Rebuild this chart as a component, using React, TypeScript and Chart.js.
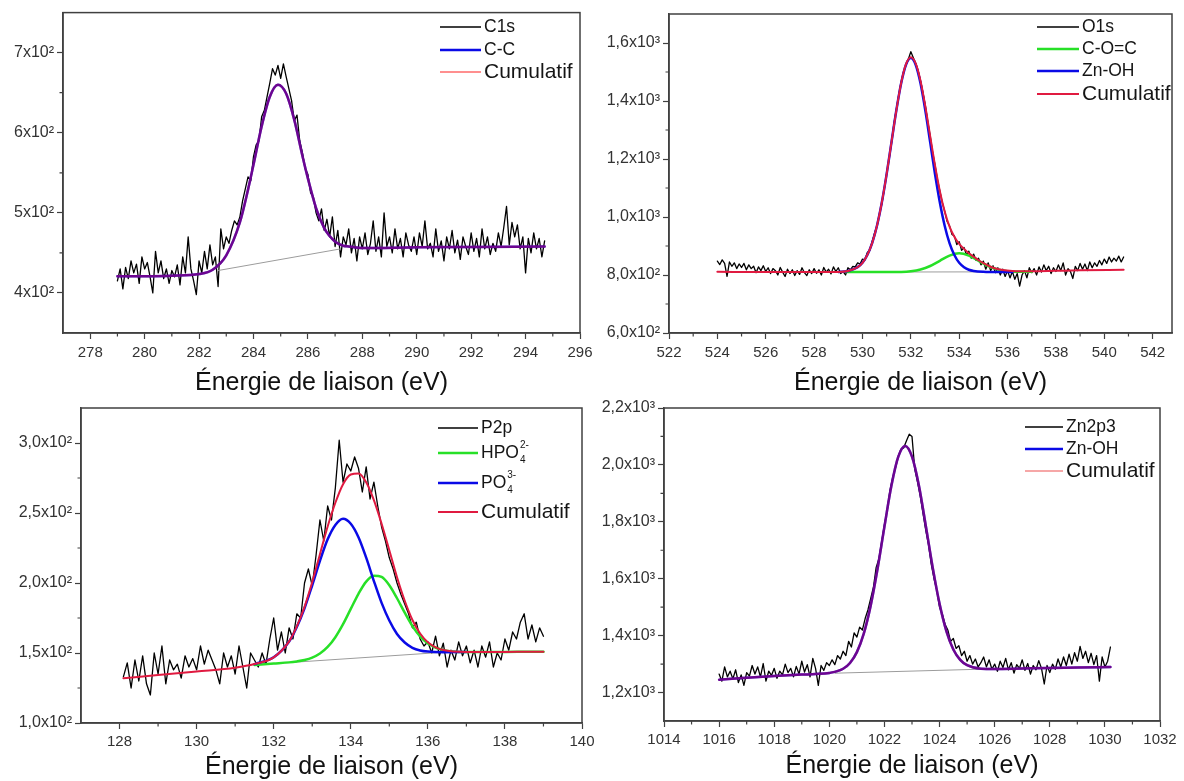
import React, { useEffect, useRef } from 'react';
import { Chart, registerables } from 'chart.js';

Chart.register(...registerables);

const FONT = '"Liberation Sans", Arial, Helvetica, sans-serif';
const AXIS_COLOR = '#404040';
const TICK_TEXT = '#333333';
const AXIS_TITLE = 'Énergie de liaison (eV)';

// ---------------- C1s (top left) ----------------
const C1S_E0 = 279.0;
const C1S_STEP = 0.1;
const C1S_COUNTS = [
  415, 430, 405, 432, 418, 440, 425, 436, 412, 445,
  430, 438, 420, 400, 452, 425, 440, 418, 430, 412,
  428, 420, 435, 410, 445, 425, 470, 430, 415, 398,
  440, 425, 452, 430, 460, 435, 445, 408, 480, 455,
  470, 462, 478, 490, 485, 495, 515, 530, 545, 540,
  570, 585, 590, 620, 628, 645, 662, 680, 672, 684,
  668, 686, 670, 655, 640, 615, 622, 590, 575, 555,
  548, 525, 520, 500, 490, 505, 478, 492, 470, 495,
  458, 478, 445, 470, 460, 480, 450, 468, 440, 470,
  455, 475, 448, 462, 490, 452, 470, 445, 500, 458,
  470, 450, 480, 455, 468, 445, 475, 460, 452, 470,
  448, 475, 458, 490, 455, 462, 445, 480, 452, 465,
  440, 470, 455, 478, 450, 466, 442, 470, 458, 448,
  475, 452, 468, 445, 480, 455, 470, 448, 462, 452,
  475, 458, 482, 508, 460, 488, 470, 485, 455, 470,
  425, 468, 450, 475, 455, 468, 445, 465,
];
const C1S_FIT_E = [279, 280, 281, 282, 282.5, 283, 283.5, 283.8, 284, 284.3, 284.6, 284.9, 285.2, 285.5, 285.8, 286, 286.3, 286.6, 286.8, 287, 287.3, 287.5, 288, 290, 292, 294.7];
const C1S_FIT = [421, 421, 421.5, 423.6, 429, 447, 488, 529, 560, 608, 645, 660, 649, 616, 571, 543, 506, 481, 471, 464, 459, 458, 456, 457, 457.5, 458];
const C1S_BG_E = [282.7, 287.2];
const C1S_BG = [428, 455];

// ---------------- O1s (top right) ----------------
const O1S_E0 = 524.0;
const O1S_STEP = 0.1;
const O1S_COUNTS = [
  848, 836, 852, 840, 795, 845, 830, 842, 822, 838,
  826, 840, 818, 835, 822, 830, 808, 828, 815, 832,
  812, 825, 805, 822, 815, 800, 826, 810, 795, 820,
  805, 818, 798, 815, 802, 825, 808, 798, 818, 805,
  822, 806, 818, 800, 826, 810, 820, 804, 828, 812,
  825, 805, 812, 800, 825, 818, 830, 828, 842, 838,
  855, 852, 878, 885, 915, 945, 968, 1010, 1045, 1095,
  1150, 1200, 1255, 1320, 1370, 1420, 1465, 1500, 1525, 1545,
  1570, 1550, 1530, 1505, 1470, 1430, 1385, 1330, 1280, 1225,
  1180, 1130, 1090, 1050, 1020, 985, 970, 940, 935, 905,
  915, 885, 895, 870, 882, 858, 872, 850, 858, 835,
  848, 820, 842, 815, 832, 808, 825, 800, 820, 795,
  815, 790, 812, 785, 805, 762, 800, 815, 790, 825,
  808, 822, 800, 828, 810, 835, 815, 830, 805, 825,
  812, 835, 815, 842, 800, 822, 812, 788, 830, 815,
  840, 820, 838, 815, 845, 825, 842, 830, 850, 835,
  855, 840, 862, 845, 858, 848, 865, 845, 862,
];
const O1S_COC_E = [529.3, 530, 531, 531.6, 532.0, 532.4, 532.8, 533.2, 533.6, 534.0, 534.4, 534.8, 535.2, 535.6, 536.0, 536.4, 537.0];
const O1S_COC = [810, 810, 810, 810.6, 813, 819, 831, 849, 867, 875, 867, 849, 831, 819, 813, 811, 811];
const O1S_ZNOH_E = [529.0, 529.4, 529.8, 530.0, 530.2, 530.4, 530.6, 530.8, 531.0, 531.2, 531.4, 531.6, 531.8, 532.0, 532.2, 532.4, 532.6, 532.8, 533.0, 533.2, 533.4, 533.6, 533.8, 534.0, 534.2, 534.4, 534.6, 535.0, 535.6, 536.2];
const O1S_ZNOH = [810.6, 813.8, 827, 842, 869, 910, 970, 1050, 1148, 1258, 1367, 1461, 1525, 1548, 1525, 1461, 1367, 1258, 1148, 1050, 970, 910, 869, 842, 827, 818, 814, 811, 810, 810];
const O1S_CUM_E = [524, 526, 528, 529.0, 529.4, 529.8, 530.0, 530.2, 530.4, 530.6, 530.8, 531.0, 531.2, 531.4, 531.6, 531.8, 532.0, 532.2, 532.4, 532.6, 532.8, 533.0, 533.2, 533.4, 533.6, 533.8, 534.0, 534.2, 534.4, 534.6, 534.8, 535.0, 535.4, 535.8, 536.2, 537, 538, 539, 540.8];
const O1S_CUM = [811, 810, 810, 810.6, 813.8, 827, 842, 869, 910, 970, 1050, 1148, 1258, 1367, 1462, 1527, 1551, 1530, 1470, 1381, 1279, 1178, 1089, 1019, 967, 932, 907, 890, 875, 863, 851, 841, 825, 817, 814, 813, 814.5, 816, 818];
const O1S_BG_E = [529.5, 536.5];
const O1S_BG = [810, 811];

// ---------------- P2p (bottom left) ----------------
const P2P_E0 = 128.1;
const P2P_STEP = 0.1;
const P2P_COUNTS = [
  133, 143, 125, 145, 130, 148, 128, 120, 150, 135,
  155, 128, 145, 138, 142, 132, 148, 140, 146, 138,
  155, 142, 152, 145, 138, 128, 150, 140, 148, 135,
  155, 140, 125, 150, 145, 140, 150, 142, 160, 175,
  152, 165, 150, 168, 160, 178, 175, 200, 210, 198,
  220, 245, 230, 255, 245, 268, 302, 272, 285, 280,
  290, 282, 265, 283, 260, 272, 255, 240, 230, 218,
  210, 200, 192, 185, 178, 168, 172, 160, 155, 158,
  150, 162, 148, 157, 140, 152, 145, 158, 148, 155,
  143, 152, 140, 155, 147, 158, 140, 150, 145, 160,
  152, 165, 160, 172, 178, 160, 170, 158, 168, 162,
];
const P2P_HPO_E = [131.5, 132, 132.4, 132.6, 132.8, 133.0, 133.2, 133.4, 133.6, 133.8, 134.0, 134.2, 134.4, 134.6, 134.8, 135.0, 135.2, 135.4, 135.6, 135.8, 136.0, 136.4, 137, 138, 139];
const P2P_HPO = [141.5, 142.5, 143.3, 144, 145, 146.7, 149.6, 154.3, 161.3, 170.6, 181.5, 192.3, 201, 205.2, 204.3, 198.4, 189.1, 178.8, 169.2, 161.8, 156.8, 152, 150.7, 150.8, 150.9];
const P2P_PO_E = [131.5, 132, 132.4, 132.6, 132.8, 133.0, 133.2, 133.4, 133.6, 133.8, 134.0, 134.2, 134.4, 134.6, 134.8, 135.0, 135.2, 135.4, 135.6, 135.8, 136.0, 136.4, 137];
const P2P_PO = [142.1, 146.9, 158.2, 168.6, 182, 198.4, 215.8, 231.2, 241.5, 245.9, 242.3, 232.7, 218.1, 201.4, 185.8, 173.2, 163.6, 157.5, 153.7, 151.8, 151, 150.6, 150.7];
const P2P_CUM_E = [128.1, 129, 130, 131, 131.5, 132, 132.4, 132.6, 132.8, 133.0, 133.2, 133.4, 133.6, 133.8, 134.0, 134.2, 134.4, 134.6, 134.8, 135.0, 135.2, 135.4, 135.6, 135.8, 136.0, 136.4, 137, 138, 139];
const P2P_CUM = [132, 134.2, 136.8, 139.5, 142.1, 146.9, 158.3, 169, 183, 200.7, 220.6, 240.3, 257.3, 270.6, 277.5, 278.3, 272, 259.2, 242.3, 223.4, 204.1, 187.3, 173.6, 163.9, 157.7, 152.1, 150.7, 150.8, 150.9];
const P2P_BG_E = [131.5, 136.4];
const P2P_BG = [141.5, 150.5];

// ---------------- Zn2p3 (bottom right) ----------------
const ZN_E0 = 1016.0;
const ZN_STEP = 0.1;
const ZN_COUNTS = [
  1265, 1240, 1290, 1255, 1275, 1248, 1280, 1235, 1262, 1225,
  1270, 1258, 1295, 1265, 1290, 1255, 1302, 1240, 1275, 1260,
  1285, 1250, 1275, 1262, 1300, 1270, 1285, 1255, 1292, 1265,
  1310, 1272, 1298, 1255, 1320, 1285, 1225, 1295, 1278, 1305,
  1295, 1315, 1298, 1330, 1318, 1345, 1330, 1380, 1360, 1410,
  1395, 1430, 1420, 1460, 1490, 1530, 1570, 1640, 1670, 1730,
  1790, 1840, 1910, 1955, 1990, 2030, 2055, 2060, 2085, 2108,
  2100, 1985, 1940, 1890, 1830, 1770, 1720, 1650, 1600, 1560,
  1500, 1475, 1440, 1420, 1380, 1390, 1355, 1365, 1330, 1345,
  1310, 1330, 1300, 1318, 1290, 1305, 1325, 1290, 1315, 1282,
  1300, 1275, 1310, 1288, 1320, 1280, 1305, 1268, 1298, 1285,
  1315, 1278, 1302, 1265, 1295, 1280, 1312, 1285, 1230, 1295,
  1270, 1300, 1282, 1318, 1290, 1325, 1295, 1335, 1300, 1340,
  1310, 1362, 1320, 1345, 1305, 1338, 1298, 1330, 1240, 1325,
  1290, 1310, 1360,
];
const ZN_FIT_E = [1016, 1017, 1018, 1019, 1019.5, 1020, 1020.5, 1020.75, 1021, 1021.25, 1021.5, 1021.75, 1022, 1022.25, 1022.5, 1022.75, 1023, 1023.25, 1023.5, 1023.75, 1024, 1024.25, 1024.5, 1024.75, 1025, 1025.5, 1026, 1027, 1028, 1029, 1030.2];
const ZN_FIT = [1245, 1252, 1258, 1263, 1265, 1269, 1283.5, 1304, 1342, 1407, 1505.5, 1635, 1783, 1925.5, 2028, 2066.5, 2029, 1928, 1786.5, 1640, 1512, 1415, 1351.5, 1315, 1296, 1284, 1283, 1284.5, 1286, 1288, 1290];
const ZN_BG_E = [1020.2, 1025.5];
const ZN_BG = [1268, 1282];

// ---------------- Axis ticks ----------------
const C1S_X_TICKS = [278, 280, 282, 284, 286, 288, 290, 292, 294, 296];
const C1S_X_MINOR = [279, 281, 283, 285, 287, 289, 291, 293, 295];
const C1S_Y_TICKS = [400, 500, 600, 700];
const C1S_Y_LABELS = ['4x10²', '5x10²', '6x10²', '7x10²'];
const C1S_Y_MINOR = [450, 550, 650];

const O1S_X_TICKS = [522, 524, 526, 528, 530, 532, 534, 536, 538, 540, 542];
const O1S_X_MINOR = [523, 525, 527, 529, 531, 533, 535, 537, 539, 541];
const O1S_Y_TICKS = [600, 800, 1000, 1200, 1400, 1600];
const O1S_Y_LABELS = ['6,0x10²', '8,0x10²', '1,0x10³', '1,2x10³', '1,4x10³', '1,6x10³'];
const O1S_Y_MINOR = [700, 900, 1100, 1300, 1500];

const P2P_X_TICKS = [128, 130, 132, 134, 136, 138, 140];
const P2P_X_MINOR = [129, 131, 133, 135, 137, 139];
const P2P_Y_TICKS = [100, 150, 200, 250, 300];
const P2P_Y_LABELS = ['1,0x10²', '1,5x10²', '2,0x10²', '2,5x10²', '3,0x10²'];
const P2P_Y_MINOR = [125, 175, 225, 275];

const ZN_X_TICKS = [1014, 1016, 1018, 1020, 1022, 1024, 1026, 1028, 1030, 1032];
const ZN_X_MINOR = [1015, 1017, 1019, 1021, 1023, 1025, 1027, 1029, 1031];
const ZN_Y_TICKS = [1200, 1400, 1600, 1800, 2000, 2200];
const ZN_Y_LABELS = ['1,2x10³', '1,4x10³', '1,6x10³', '1,8x10³', '2,0x10³', '2,2x10³'];
const ZN_Y_MINOR = [1300, 1500, 1700, 1900, 2100];

// ---------------- helpers ----------------
const pts = (xs: number[], ys: number[]) => xs.map((x, i) => ({ x, y: ys[i] }));
const gridPts = (e0: number, step: number, ys: number[]) =>
  ys.map((y, i) => ({ x: Math.round((e0 + i * step) * 100) / 100, y }));

const series = (label: string, data: any[], color: string, width: number, order: number, smooth: boolean) => ({
  label,
  data,
  borderColor: color,
  backgroundColor: color,
  borderWidth: width,
  pointRadius: 0,
  pointHoverRadius: 0,
  fill: false,
  order,
  tension: 0,
  cubicInterpolationMode: smooth ? 'monotone' : 'default',
  borderJoinStyle: 'round',
  borderCapStyle: 'round',
});

const BLACK = '#000000';
const GRAY = '#9c9c9c';
const BLUE = '#0a0ae6';
const GREEN = '#27e027';
const RED = '#e01a40';
const PURPLE_OVER = 'rgba(230,0,40,0.45)';

type LegendItem = { text: string; color: string; width: number; size: number; sub?: string; sup?: string };

interface PanelDef {
  id: string;
  box: { left: number; top: number; width: number; height: number };
  area: { l: number; t: number; r: number; b: number };
  xMin: number; xMax: number; yMin: number; yMax: number;
  xTicks: number[]; xMinor: number[];
  yTicks: number[]; yLabels: string[]; yMinor: number[];
  xLabelPad: number; titlePad: number;
  datasets: any[];
  legend: LegendItem[];
  legendPos: { lx: number; len: number; tx: number; ys: number[] };
}

const PANELS: PanelDef[] = [
  {
    id: 'c1s',
    box: { left: 0, top: 0, width: 600, height: 400 },
    area: { l: 63, t: 10, r: 580, b: 333 },
    xMin: 277, xMax: 296, yMin: 350, yMax: 750,
    xTicks: C1S_X_TICKS, xMinor: C1S_X_MINOR,
    yTicks: C1S_Y_TICKS, yLabels: C1S_Y_LABELS, yMinor: C1S_Y_MINOR,
    xLabelPad: 5, titlePad: 2,
    datasets: [
      series('C1s', gridPts(C1S_E0, C1S_STEP, C1S_COUNTS), BLACK, 1.3, 10, false),
      series('Ligne de base', pts(C1S_BG_E, C1S_BG), GRAY, 1, 5, false),
      series('C-C', pts(C1S_FIT_E, C1S_FIT), BLUE, 2.5, 2, true),
      series('Cumulatif', pts(C1S_FIT_E, C1S_FIT), PURPLE_OVER, 2.5, 1, true),
    ],
    legend: [
      { text: 'C1s', color: BLACK, width: 1.6, size: 17.5 },
      { text: 'C-C', color: BLUE, width: 2.5, size: 17.5 },
      { text: 'Cumulatif', color: '#ff6a6a', width: 1.4, size: 21 },
    ],
    legendPos: { lx: 440, len: 41, tx: 484, ys: [27, 50, 72] },
  },
  {
    id: 'o1s',
    box: { left: 590, top: 0, width: 594, height: 400 },
    area: { l: 79, t: 14, r: 582, b: 333 },
    xMin: 522, xMax: 542.8, yMin: 600, yMax: 1700,
    xTicks: O1S_X_TICKS, xMinor: O1S_X_MINOR,
    yTicks: O1S_Y_TICKS, yLabels: O1S_Y_LABELS, yMinor: O1S_Y_MINOR,
    xLabelPad: 5, titlePad: 2,
    datasets: [
      series('O1s', gridPts(O1S_E0, O1S_STEP, O1S_COUNTS), BLACK, 1.3, 10, false),
      series('Ligne de base', pts(O1S_BG_E, O1S_BG), GRAY, 1, 5, false),
      series('C-O=C', pts(O1S_COC_E, O1S_COC), GREEN, 2.5, 4, true),
      series('Zn-OH', pts(O1S_ZNOH_E, O1S_ZNOH), BLUE, 2.5, 3, true),
      series('Cumulatif', pts(O1S_CUM_E, O1S_CUM), RED, 2, 1, true),
    ],
    legend: [
      { text: 'O1s', color: BLACK, width: 1.6, size: 17.5 },
      { text: 'C-O=C', color: GREEN, width: 2.5, size: 17.5 },
      { text: 'Zn-OH', color: BLUE, width: 2.5, size: 17.5 },
      { text: 'Cumulatif', color: RED, width: 2.2, size: 21 },
    ],
    legendPos: { lx: 447, len: 42, tx: 492, ys: [27, 49, 71, 94] },
  },
  {
    id: 'p2p',
    box: { left: 0, top: 395, width: 600, height: 391 },
    area: { l: 81, t: 13, r: 582, b: 328 },
    xMin: 127, xMax: 140, yMin: 100, yMax: 325,
    xTicks: P2P_X_TICKS, xMinor: P2P_X_MINOR,
    yTicks: P2P_Y_TICKS, yLabels: P2P_Y_LABELS, yMinor: P2P_Y_MINOR,
    xLabelPad: 4, titlePad: 4,
    datasets: [
      series('P2p', gridPts(P2P_E0, P2P_STEP, P2P_COUNTS), BLACK, 1.3, 10, false),
      series('Ligne de base', pts(P2P_BG_E, P2P_BG), GRAY, 1, 5, false),
      series('HPO4', pts(P2P_HPO_E, P2P_HPO), GREEN, 2.5, 4, true),
      series('PO4', pts(P2P_PO_E, P2P_PO), BLUE, 2.5, 3, true),
      series('Cumulatif', pts(P2P_CUM_E, P2P_CUM), RED, 2, 1, true),
    ],
    legend: [
      { text: 'P2p', color: BLACK, width: 1.6, size: 17.5 },
      { text: 'HPO', color: GREEN, width: 2.5, size: 17.5, sub: '4', sup: '2-' },
      { text: 'PO', color: BLUE, width: 2.5, size: 17.5, sub: '4', sup: '3-' },
      { text: 'Cumulatif', color: RED, width: 2.2, size: 21 },
    ],
    legendPos: { lx: 438, len: 40, tx: 481, ys: [33, 58, 88, 117] },
  },
  {
    id: 'zn',
    box: { left: 590, top: 395, width: 594, height: 391 },
    area: { l: 74, t: 13, r: 570, b: 326 },
    xMin: 1014, xMax: 1032, yMin: 1100, yMax: 2200,
    xTicks: ZN_X_TICKS, xMinor: ZN_X_MINOR,
    yTicks: ZN_Y_TICKS, yLabels: ZN_Y_LABELS, yMinor: ZN_Y_MINOR,
    xLabelPad: 4, titlePad: 5,
    datasets: [
      series('Zn2p3', gridPts(ZN_E0, ZN_STEP, ZN_COUNTS), BLACK, 1.3, 10, false),
      series('Ligne de base', pts(ZN_BG_E, ZN_BG), GRAY, 1, 5, false),
      series('Zn-OH', pts(ZN_FIT_E, ZN_FIT), BLUE, 2.5, 2, true),
      series('Cumulatif', pts(ZN_FIT_E, ZN_FIT), PURPLE_OVER, 2.5, 1, true),
    ],
    legend: [
      { text: 'Zn2p3', color: BLACK, width: 1.6, size: 17.5 },
      { text: 'Zn-OH', color: BLUE, width: 2.5, size: 17.5 },
      { text: 'Cumulatif', color: '#f38a8a', width: 1.6, size: 21 },
    ],
    legendPos: { lx: 435, len: 38, tx: 476, ys: [32, 54, 76] },
  },
];

function drawLegend(ctx: CanvasRenderingContext2D, p: PanelDef) {
  const { lx, len, tx, ys } = p.legendPos;
  p.legend.forEach((it, i) => {
    const y = ys[i];
    ctx.save();
    ctx.strokeStyle = it.color;
    ctx.lineWidth = it.width;
    ctx.beginPath();
    ctx.moveTo(lx, y);
    ctx.lineTo(lx + len, y);
    ctx.stroke();
    ctx.fillStyle = '#151515';
    ctx.textAlign = 'left';
    ctx.textBaseline = 'middle';
    ctx.font = `${it.size}px ${FONT}`;
    ctx.fillText(it.text, tx, y);
    if (it.sub || it.sup) {
      const w = ctx.measureText(it.text).width;
      ctx.font = `10px ${FONT}`;
      if (it.sup) ctx.fillText(it.sup, tx + w + 1, y - 8);
      if (it.sub) ctx.fillText(it.sub, tx + w + 1, y + 7);
    }
    ctx.restore();
  });
}

function PanelChart({ p }: { p: PanelDef }) {
  const ref = useRef<HTMLCanvasElement | null>(null);

  useEffect(() => {
    if (!ref.current) return;
    const decor = {
      id: 'decor_' + p.id,
      afterDraw(chart: any) {
        const { ctx, chartArea: a, scales } = chart;
        ctx.save();
        ctx.strokeStyle = AXIS_COLOR;
        ctx.lineWidth = 1.5;
        ctx.strokeRect(a.left, a.top, a.right - a.left, a.bottom - a.top);
        ctx.lineWidth = 1.2;
        ctx.beginPath();
        p.xMinor.forEach((v) => {
          const px = scales.x.getPixelForValue(v);
          ctx.moveTo(px, a.bottom);
          ctx.lineTo(px, a.bottom + 3.5);
        });
        p.yMinor.forEach((v) => {
          const py = scales.y.getPixelForValue(v);
          ctx.moveTo(a.left - 3.5, py);
          ctx.lineTo(a.left, py);
        });
        ctx.stroke();
        ctx.restore();
        drawLegend(ctx, p);
      },
    };

    const chart = new Chart(ref.current, {
      type: 'line',
      data: { datasets: p.datasets },
      options: {
        responsive: false,
        maintainAspectRatio: false,
        animation: false,
        events: [],
        layout: { padding: { left: 0, top: p.area.t, right: p.box.width - p.area.r, bottom: 0 } },
        plugins: { legend: { display: false }, tooltip: { enabled: false } },
        scales: {
          x: {
            type: 'linear',
            min: p.xMin,
            max: p.xMax,
            afterBuildTicks: (s: any) => { s.ticks = p.xTicks.map((v) => ({ value: v })); },
            afterFit: (s: any) => { s.height = p.box.height - p.area.b; },
            ticks: {
              autoSkip: false,
              maxRotation: 0,
              padding: p.xLabelPad,
              color: TICK_TEXT,
              font: { family: FONT, size: 15, lineHeight: 1.2 },
              callback: (v: any) => String(v),
            },
            grid: { drawOnChartArea: false, drawTicks: true, tickLength: 6, tickColor: AXIS_COLOR, tickWidth: 1.2 },
            border: { color: AXIS_COLOR, width: 1.5 },
            title: {
              display: true,
              text: AXIS_TITLE,
              color: '#111111',
              font: { family: FONT, size: 25, lineHeight: 1.2 },
              padding: { top: 0, bottom: p.titlePad },
            },
          },
          y: {
            type: 'linear',
            min: p.yMin,
            max: p.yMax,
            afterBuildTicks: (s: any) => { s.ticks = p.yTicks.map((v) => ({ value: v })); },
            afterFit: (s: any) => { s.width = p.area.l; },
            ticks: {
              autoSkip: false,
              padding: 3,
              color: TICK_TEXT,
              font: { family: FONT, size: 16 },
              callback: (v: any) => p.yLabels[p.yTicks.indexOf(v)] ?? '',
            },
            grid: { drawOnChartArea: false, drawTicks: true, tickLength: 6, tickColor: AXIS_COLOR, tickWidth: 1.2 },
            border: { color: AXIS_COLOR, width: 1.5 },
          },
        },
      } as any,
      plugins: [decor],
    });
    return () => chart.destroy();
  }, [p]);

  return (
    <canvas
      ref={ref}
      width={p.box.width}
      height={p.box.height}
      style={{ position: 'absolute', left: p.box.left, top: p.box.top, width: p.box.width, height: p.box.height }}
    />
  );
}

export default function App() {
  return (
    <div
      style={{
        position: 'fixed',
        left: 0,
        top: 0,
        width: 1184,
        height: 781,
        overflow: 'hidden',
        background: '#ffffff',
      }}
    >
      {PANELS.map((p) => (
        <PanelChart key={p.id} p={p} />
      ))}
    </div>
  );
}
